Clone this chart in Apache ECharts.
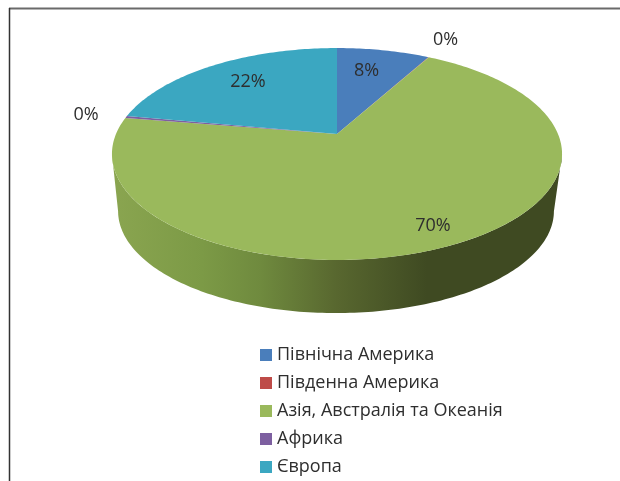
<!DOCTYPE html>
<html><head><meta charset="utf-8">
<style>html,body{margin:0;padding:0;background:#fff}#c{width:620px;height:481px}</style>
<script src="https://cdn.jsdelivr.net/npm/echarts@6/dist/echarts.min.js"></script>
</head><body><div id="c"></div>
<script>
var categories = ['Північна Америка','Південна Америка','Азія, Австралія та Океанія','Африка','Європа'];
var shares = [8.0, 0.05, 69.55, 0.3, 22.1];
var colors = ['#4a7ebb','#be4b48','#9ab95c','#7d5fa0','#3ba7c1'];
var labelOffsets = [[-17,21],[17,-17],[-20,-19],[-40,-2],[34.5,16.6]];

var TOP = {cx:337, apex:134, a:-76.9, r:221, c:0.1887};
var BASE = {cx:336, apex:191.8, a:-62.2, r:214, c:0.1887};
var FRONT = [101, 259];
function project(p, deg, k){
  var t = deg*Math.PI/180, u = Math.sin(t)*k, v = Math.cos(t)*k, d = 1+p.c*v;
  return [p.cx+p.r*u/d, (p.apex+p.a*v)/d];
}
var total = shares.reduce(function(s,x){return s+x;},0);
function startOf(i){var s=0;for(var j=0;j<i;j++)s+=shares[j];return s/total*360;}
function arc(p,a0,a1){
  var pts=[], n=Math.max(2,Math.ceil(Math.abs(a1-a0)));
  for(var i=0;i<=n;i++)pts.push(project(p,a0+(a1-a0)*i/n,1));
  return pts;
}
var wallFill = new echarts.graphic.LinearGradient(112,0,562,0,[
  {offset:0,color:'#8aa550'},{offset:0.2,color:'#7c9a46'},{offset:0.33,color:'#6f8a3e'},
  {offset:0.5,color:'#58672f'},{offset:0.7,color:'#3f4a22'},{offset:1,color:'#3f4a22'}],true);

function renderSlice(i){
  return function(){
    var a0=startOf(i), a1=a0+shares[i]/total*360, kids=[];
    var w0=Math.max(a0,FRONT[0]), w1=Math.min(a1,FRONT[1]);
    if(w1>w0){
      kids.push({type:'polygon',shape:{points:arc(TOP,w0,w1).concat(arc(BASE,w0,w1).reverse())},style:{fill:wallFill}});
    }
    kids.push({type:'polygon',shape:{points:[[TOP.cx,TOP.apex]].concat(arc(TOP,a0,a1))},style:{fill:colors[i]}});
    return {type:'group',children:kids};
  };
}
function renderLabel(i){
  return function(){
    var a0=startOf(i), mid=a0+shares[i]/total*180, p=project(TOP,mid,1);
    return {type:'text',z2:50,style:{x:p[0]+labelOffsets[i][0],y:p[1]+labelOffsets[i][1],
      text:Math.round(shares[i]/total*100)+'%',align:'center',verticalAlign:'middle',
      font:'18px "Open Sans"',fill:'#2e2e2e'}};
  };
}
var series = categories.map(function(name,i){
  return {type:'custom',name:name,coordinateSystem:'none',silent:true,animation:false,z:2,
    itemStyle:{color:colors[i]},data:[[shares[i]]],renderItem:renderSlice(i)};
}).concat(categories.map(function(name,i){
  return {type:'custom',name:'label '+name,coordinateSystem:'none',silent:true,animation:false,z:3,
    data:[[shares[i]]],renderItem:renderLabel(i)};
}));
var chart = echarts.init(document.getElementById('c'),null,{renderer:'canvas'});
chart.setOption({
  animation:false,
  backgroundColor:'#fff',
  legend:{data:categories,orient:'vertical',left:260,top:346,icon:'rect',itemWidth:12,itemHeight:12,itemGap:10,
    selectedMode:false,padding:0,textStyle:{fontFamily:'Open Sans',fontSize:18,color:'#2e2e2e',padding:[0,0,0,0]}},
  graphic:[
    {type:'line',shape:{x1:9,y1:8.5,x2:620,y2:8.5},style:{stroke:'#6a6a6a',lineWidth:2}},
    {type:'line',shape:{x1:9.5,y1:8,x2:9.5,y2:481},style:{stroke:'#333',lineWidth:1.5}}
  ],
  series:series
});
</script></body></html>
